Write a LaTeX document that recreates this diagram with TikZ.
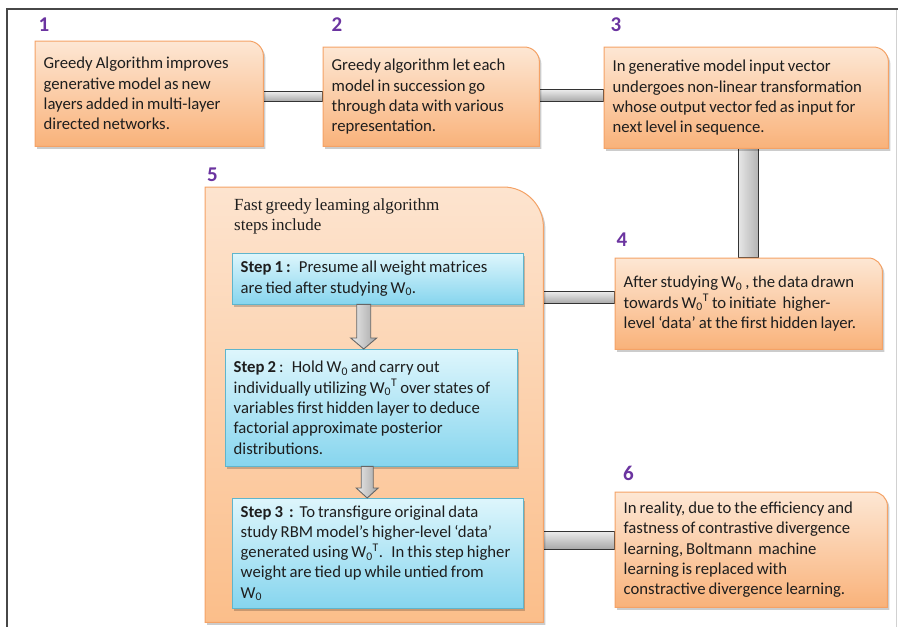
\documentclass[tikz,border=0pt]{standalone}
\usepackage{fontspec}
\setmainfont{Carlito}
\newfontfamily\headfont{Liberation Serif}
\usetikzlibrary{calc,backgrounds}

\definecolor{peachtop}{HTML}{FDE7D4}
\definecolor{peachbot}{HTML}{F9B27A}
\definecolor{peachline}{HTML}{F4A266}
\definecolor{bigtop}{HTML}{FDE4CF}
\definecolor{bigbot}{HTML}{FBBE8A}
\definecolor{skytop}{HTML}{DEF6FC}
\definecolor{skybot}{HTML}{86D5EE}
\definecolor{skyline}{HTML}{5FB5CC}
\definecolor{barline}{HTML}{333333}
\definecolor{numpurple}{HTML}{6B34A0}
\definecolor{frameline}{HTML}{474747}
\definecolor{inktext}{HTML}{1E1E1E}

% card outline: square corners except a rounded top-right corner
\newcommand{\drawcard}[3]{%
  \fill[black,opacity=0.20,transform canvas={shift={(2pt,-2.5pt)}}]
    (#1.south west) -- (#1.north west) -- ([xshift=-#2]#1.north east)
    arc[start angle=90,end angle=0,radius=#2] -- (#1.south east) -- cycle;
  \draw[#3]
    (#1.south west) -- (#1.north west) -- ([xshift=-#2]#1.north east)
    arc[start angle=90,end angle=0,radius=#2] -- (#1.south east) -- cycle;
}
% tighter word spacing for the card texts and the heading
\newcommand{\tightwords}{\spaceskip=3pt plus 1.5pt minus 0.8pt\relax}
\newcommand{\tighthead}{\spaceskip=3.2pt plus 1pt minus 0.5pt\relax}

\begin{document}
\begin{tikzpicture}[x=1pt,y=-1pt,
  cardtext/.style={anchor=north west, inner xsep=8.5pt, inner ysep=0pt,
    align=left, text=inktext, font=\fontsize{16.7}{20.3}\selectfont,
    execute at begin node=\tightwords},
  steptext/.style={cardtext},
  headtext/.style={anchor=north west, inner sep=0pt, align=left, text=inktext,
    font=\headfont\fontsize{17}{19.5}\selectfont, execute at begin node=\tighthead},
  numlabel/.style={text=numpurple, inner sep=0pt,
    font=\fontsize{21}{21}\selectfont\bfseries},
  orangefill/.style={top color=peachtop, bottom color=peachbot, draw=peachline, line width=1pt},
  bigfill/.style={top color=bigtop, bottom color=bigbot, draw=peachline, line width=1pt},
  skyfill/.style={top color=skytop, bottom color=skybot, draw=skyline, line width=1pt},
  barfill/.style={top color=black!8, bottom color=black!35, draw=barline, line width=1.1pt},
  vbarfill/.style={left color=black!10, right color=black!30, draw=barline, line width=1.1pt},
  arrowfill/.style={left color=black!8, right color=black!35, draw=black!60, line width=0.9pt},
]
\useasboundingbox (0,0) rectangle (898,627);

% frame
\draw[frameline, line width=1.6pt] (898,9) -- (7,9) -- (7,627);
\draw[black!18, line width=1pt] (896,10) -- (896,627);

% numbered cards
\node[cardtext, minimum width=228pt, minimum height=105pt, text width=211pt] (b1) at (35,41)
  {Greedy Algorithm improves\\generative model as new\\layers added in multi-layer\\directed networks.};
\node[cardtext, minimum width=216pt, minimum height=99pt, text width=199pt] (b2) at (323,47)
  {Greedy algorithm let each\\model in succession go\\through data with various\\representation.};
\node[cardtext, minimum width=284pt, minimum height=101pt, text width=267pt] (b3) at (604,47)
  {In generative model input vector\\undergoes non-linear transformation\\whose output vector fed as input for\\next level in sequence.};
\node[cardtext, minimum width=267pt, minimum height=91pt, text width=250pt] (b4) at (615,258)
  {After studying W\textsubscript{0} , the data drawn\\towards W\textsubscript{0}\textsuperscript{T} to initiate\ \ higher-\\level ‘data’ at the first hidden layer.};
\node[minimum width=338pt, minimum height=435pt, inner sep=0pt, anchor=north west] (b5) at (205,187) {};
\node[cardtext, minimum width=272pt, minimum height=115pt, text width=255pt] (b6) at (615,492)
  {In reality, due to the efficiency and\\fastness of contrastive divergence\\learning, Boltmann\ \ machine\\learning is replaced with\\constractive divergence learning.};

% card 5 heading and steps
\node[headtext] (h5) at (234,199) {Fast greedy leaming algorithm\\steps include};
\node[steptext, minimum width=291pt, minimum height=51pt, text width=274pt] (s1) at (232,253)
  {\textbf{Step 1 :} Presume all weight matrices\\are tied after studying W\textsubscript{0}.};
\node[steptext, minimum width=292pt, minimum height=117pt, text width=275pt] (s2) at (225,349)
  {\textbf{Step 2} : Hold W\textsubscript{0} and carry out\\individually utilizing W\textsubscript{0}\textsuperscript{T} over states of\\variables first hidden layer to deduce\\factorial approximate posterior\\distributions.};
\node[steptext, minimum width=291pt, minimum height=110pt, text width=274pt] (s3) at (232,498)
  {\textbf{Step 3\ \ :}\ \ To transfigure original data\\study RBM model’s higher-level ‘data’\\generated using W\textsubscript{0}\textsuperscript{T}. In this step higher\\weight are tied up while untied from\\W\textsubscript{0}};

% numbers
\node[numlabel] (n1) at (44,25) {1};
\node[numlabel] (n2) at (337,25) {2};
\node[numlabel] (n3) at (616,25) {3};
\node[numlabel] (n4) at (622,240) {4};
\node[numlabel] (n5) at (212.5,175) {5};
\node[numlabel] (n6) at (628.5,473) {6};

% anchor points for the block arrows inside card 5
\coordinate (a1top) at ($(s1.south)+(-14,0)$);
\coordinate (a1tip) at (a1top |- s2.north);
\coordinate (a2top) at ($(s2.south)+(-4,0)$);
\coordinate (a2tip) at (a2top |- s3.north);

\begin{scope}[on background layer]
  % connector bars
  \draw[barfill] ($(b1.east |- b2.west)+(-4,-5)$) rectangle ($(b2.west)+(0,5)$);
  \draw[barfill] ($(b2.east |- b3.west)+(-2,-8)$) rectangle ($(b3.west)+(0,4)$);
  \draw[vbarfill] ($(b4.north |- b3.south)+(-10,0)$) rectangle ($(b4.north)+(10,0)$);
  \draw[barfill] ($(b5.east |- b4.west)+(0,-12)$) rectangle ($(b4.west)+(0,0)$);
  \draw[barfill] ($(b5.east |- b6.west)+(0,-18)$) rectangle ($(b6.west)+(0,0)$);

  % cards
  \drawcard{b1}{15pt}{orangefill}
  \drawcard{b2}{15pt}{orangefill}
  \drawcard{b3}{15pt}{orangefill}
  \drawcard{b4}{14pt}{orangefill}
  \drawcard{b6}{14pt}{orangefill}
  \drawcard{b5}{40pt}{bigfill}

  % step boxes
  \foreach \s in {s1,s2,s3}{
    \fill[black,opacity=0.20,transform canvas={shift={(2pt,-2.5pt)}}] (\s.south west) rectangle (\s.north east);
    \draw[skyfill] (\s.south west) rectangle (\s.north east);
  }

  % hollow block arrows between the steps
  \draw[arrowfill] ($(a1top)+(-7,0)$) -- ($(a1tip)+(-7,-11)$) -- ($(a1tip)+(-13,-11)$) -- (a1tip)
    -- ($(a1tip)+(13,-11)$) -- ($(a1tip)+(7,-11)$) -- ($(a1top)+(7,0)$) -- cycle;
  \draw[arrowfill] ($(a2top)+(-6,0)$) -- ($(a2tip)+(-6,-10)$) -- ($(a2tip)+(-11,-10)$) -- (a2tip)
    -- ($(a2tip)+(11,-10)$) -- ($(a2tip)+(6,-10)$) -- ($(a2top)+(6,0)$) -- cycle;
\end{scope}
\end{tikzpicture}
\end{document}
